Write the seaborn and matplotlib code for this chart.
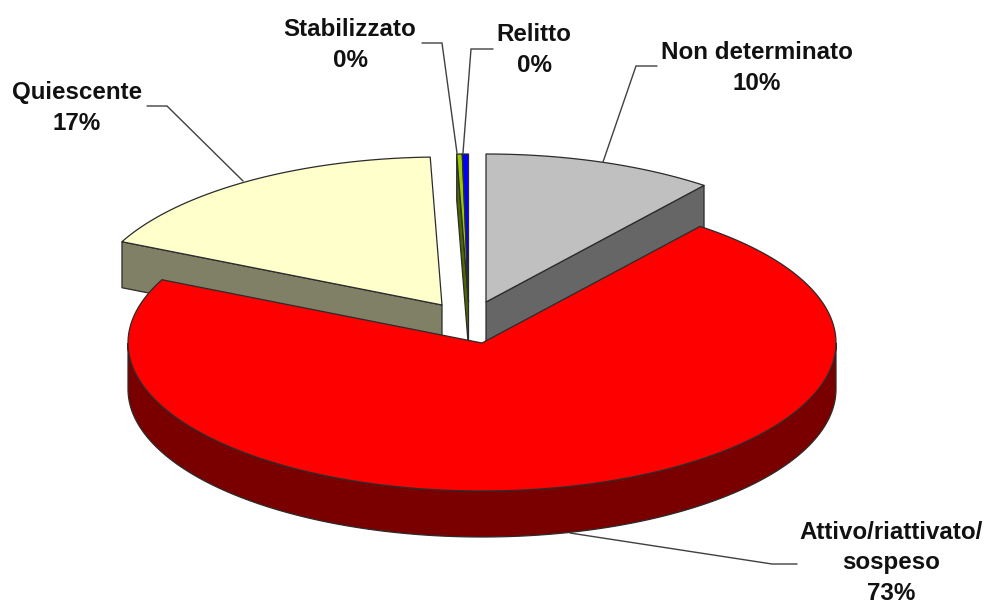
import numpy as np
import matplotlib
matplotlib.use('Agg')
import matplotlib.pyplot as plt
import seaborn as sns

# Slice shares as drawn, clockwise from 12 o'clock (the 3D view stretches them a bit)
names = ['Non determinato', 'Attivo/riattivato/\nsospeso', 'Quiescente', 'Stabilizzato', 'Relitto']
shares = [10.56, 71.47, 17.44, 0.25, 0.28]
pct_labels = ['10%', '73%', '17%', '0%', '0%']

top_colors = ['#C0C0C0', '#FF0000', '#FFFFCC', '#99CC00', '#0000FF']
side_colors = ['#666666', '#7A0000', '#808066', '#4D6600', '#000080']

# Layout, in pixels of the 987x606 picture
apexes = [(486, 302), (482, 343), (442, 305), (468.5, 302), (468.5, 302)]
label_pos = [(757, 68), (891, 563), (77, 108), (350, 45), (534, 50)]
leaders = [
    [(657, 66), (636, 66), (603, 162)],
    [(797, 564), (772, 564), (570, 533)],
    [(147, 106), (167, 106), (243, 181)],
    [(422, 43), (442, 43), (457, 153)],
    [(493, 49), (471, 49), (463, 153)],
]
RX, RY, DEPTH = 354, 148, 46
EDGE = '#2b2b2b'

sns.set_theme(style='white')
plt.rcParams['font.family'] = ['Liberation Sans', 'DejaVu Sans']


def rim(apex, a0, a1):
    # points on the ellipse between two angles (degrees clockwise from top)
    t = np.radians(np.linspace(a0, a1, 200))
    return apex[0] + RX * np.sin(t), apex[1] - RY * np.cos(t)


def side_quad(ax, apex, angle, color):
    x = apex[0] + RX * np.sin(np.radians(angle))
    y = apex[1] - RY * np.cos(np.radians(angle))
    ax.fill([apex[0], x, x, apex[0]], [apex[1], y, y + DEPTH, apex[1] + DEPTH],
            facecolor=color, edgecolor=EDGE, linewidth=0.9, joinstyle='round')


def top_face(ax, apex, a0, a1, color):
    x, y = rim(apex, a0, a1)
    ax.fill(np.r_[apex[0], x], np.r_[apex[1], y],
            facecolor=color, edgecolor=EDGE, linewidth=0.9, joinstyle='round')


fig = plt.figure(figsize=(9.87, 6.06), dpi=100)
ax = fig.add_axes([0, 0, 1, 1])
ax.set_xlim(0, 987)
ax.set_ylim(606, 0)
ax.axis('off')

edges = np.r_[0, np.cumsum(shares)] * 3.6
starts, ends = edges[:-1], edges[1:]

# Grey, quiescent and the two thin slices go first: the red top covers their feet
side_quad(ax, apexes[0], ends[0], side_colors[0])
top_face(ax, apexes[0], starts[0], ends[0], top_colors[0])
side_quad(ax, apexes[2], starts[2], side_colors[2])
top_face(ax, apexes[2], starts[2], ends[2], top_colors[2])
side_quad(ax, apexes[3], starts[3], side_colors[3])
top_face(ax, apexes[3], starts[3], ends[3], top_colors[3])
top_face(ax, apexes[4], starts[4], ends[4], top_colors[4])

# Red slice: front wall first, then its top
x, y = rim(apexes[1], 90, 270)
ax.fill(np.r_[x, x[::-1]], np.r_[y, y[::-1] + DEPTH],
        facecolor=side_colors[1], edgecolor=EDGE, linewidth=0.9)
top_face(ax, apexes[1], starts[1], ends[1], top_colors[1])

for pts in leaders:
    lx, ly = zip(*pts)
    ax.plot(lx, ly, color='#404040', linewidth=1.0, solid_joinstyle='miter')

for name, pct, (px, py) in zip(names, pct_labels, label_pos):
    ax.text(px, py, name + '\n' + pct, ha='center', va='center', fontsize=17.4,
            fontweight='bold', color='#111111', linespacing=1.42)

fig.savefig('out.png', dpi=100, facecolor='white')
